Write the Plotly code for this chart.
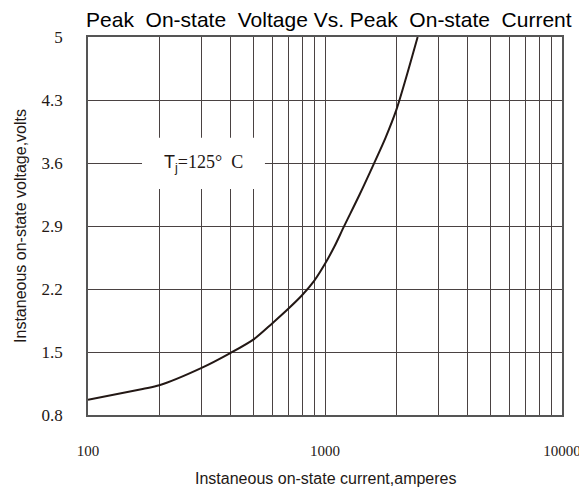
import plotly.graph_objects as go

current_a = [100, 170, 200, 300, 400, 500, 600, 700, 800, 900, 1000, 1100, 1200, 1400, 1600, 1800, 2000, 2200, 2460]
voltage_v = [0.97, 1.09, 1.13, 1.32, 1.49, 1.64, 1.82, 1.98, 2.13, 2.29, 2.48, 2.68, 2.89, 3.25, 3.58, 3.88, 4.19, 4.55, 5.0]

x_tickvals = [100, 1000, 10000]
x_ticktext = ["100", "1000", "10000"]
y_tickvals = [0.8, 1.5, 2.2, 2.9, 3.6, 4.3, 5.0]
y_ticktext = ["0.8", "1.5", "2.2", "2.9", "3.6", "4.3", "5"]
minor_x = [200, 300, 400, 500, 600, 700, 800, 900, 2000, 3000, 4000, 5000, 6000, 7000, 8000, 9000]

title_text = "Peak  On-state  Voltage Vs. Peak  On-state  Current"
x_title = "Instaneous on-state current,amperes"
y_title = "Instaneous on-state voltage,volts"
label_text = "<span style='font-family:Liberation Sans'>T<sub>j</sub></span>=125°  C"

fig = go.Figure()
fig.add_trace(go.Scatter(x=current_a, y=voltage_v, mode="lines",
                         line=dict(color="#231815", width=2, shape="spline", smoothing=0.8),
                         showlegend=False))

grid_color = "#4a4242"
fig.update_xaxes(type="log", range=[2, 4], tickvals=x_tickvals, ticktext=x_ticktext,
                 showgrid=True, gridcolor=grid_color, gridwidth=1,
                 minor=dict(tickvals=minor_x, showgrid=True, gridcolor=grid_color, gridwidth=1, ticks=""),
                 showline=True, linecolor="#555555", linewidth=1.5, mirror=True,
                 ticks="", ticklabelstandoff=21, automargin=False,
                 tickfont=dict(family="Liberation Serif", size=15, color="#231815"),
                 zeroline=False)
fig.update_yaxes(range=[0.8, 5.0], tickvals=y_tickvals, ticktext=y_ticktext,
                 showgrid=True, gridcolor=grid_color, gridwidth=1,
                 showline=True, linecolor="#555555", linewidth=1.5, mirror=True,
                 ticks="", ticklabelstandoff=20, automargin=False,
                 tickfont=dict(family="Liberation Serif", size=17, color="#231815"),
                 title=dict(text=y_title, font=dict(family="Liberation Sans", size=16, color="#231815"),
                            standoff=11),
                 zeroline=False)

# x-axis title placed below the tick labels
fig.add_annotation(x=0.5, y=-63 / 378, xref="paper", yref="paper", text=x_title,
                   showarrow=False, xanchor="center", yanchor="middle",
                   font=dict(family="Liberation Sans", size=16, color="#231815"))

# white box behind the temperature label
fig.add_shape(type="rect", xref="x", yref="y", x0=169, x1=558, y0=3.31, y1=3.88,
              fillcolor="white", line=dict(width=0), layer="above")
fig.add_annotation(x=0.5 * (2.228 + 2.747), y=3.6, xref="x", yref="y",
                   text=label_text, showarrow=False,
                   font=dict(family="Liberation Serif", size=18, color="#231815"))

# the page body has an 8px default margin, so the figure is sized to fit the window
fig.update_layout(
    width=577, height=482,
    margin=dict(l=80, r=23, t=29, b=75),
    paper_bgcolor="white", plot_bgcolor="white",
    title=dict(text=title_text, x=0.556, xanchor="center", y=1 - 11.5 / 482, yanchor="middle",
               font=dict(family="Liberation Sans", size=21, color="#000000")),
)

fig.write_html("out.html")
